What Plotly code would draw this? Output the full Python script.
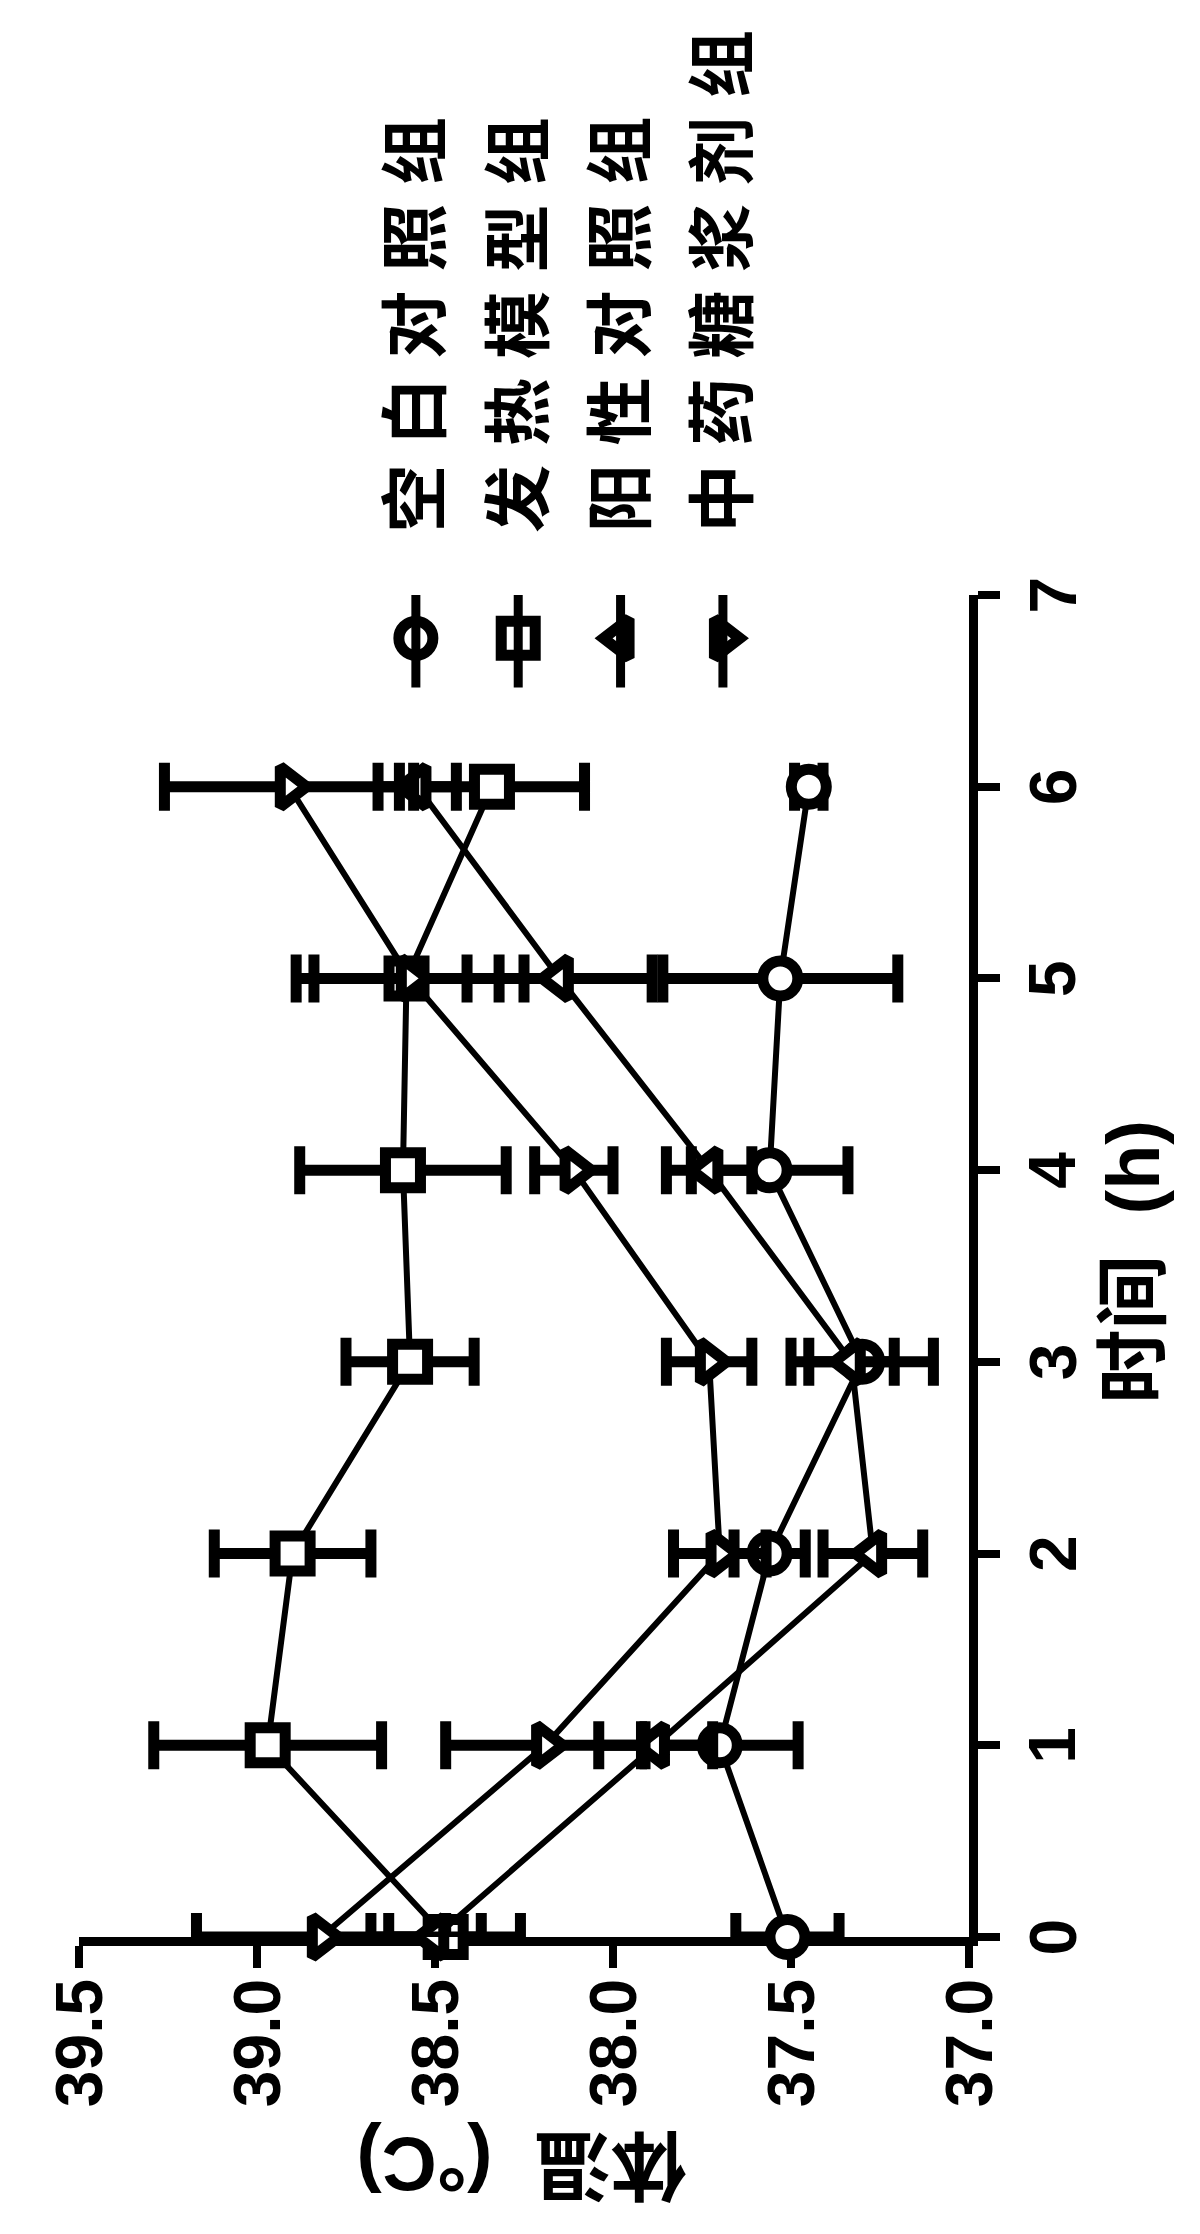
import plotly.graph_objects as go

time_h = [0, 1, 2, 3, 4, 5, 6]
time_ticks = [0, 1, 2, 3, 4, 5, 6, 7]
temp_ticks = [39.5, 39.0, 38.5, 38.0, 37.5, 37.0]
group_names = ["空白对照组", "发热模型组", "阳性对照组", "中药糖浆剂组"]

blank_mean = [37.51, 37.70, 37.56, 37.30, 37.56, 37.53, 37.45]
blank_err = [0.145, 0.22, 0.10, 0.20, 0.22, 0.33, 0.04]
fever_mean = [38.47, 38.97, 38.90, 38.57, 38.59, 38.58, 38.34]
fever_err = [0.21, 0.32, 0.22, 0.18, 0.29, 0.26, 0.26]
positive_mean = [38.50, 37.88, 37.27, 37.33, 37.73, 38.15, 38.55]
positive_err = [0.13, 0.16, 0.14, 0.12, 0.12, 0.26, 0.11]
syrup_mean = [38.82, 38.19, 37.70, 37.73, 38.11, 38.57, 38.91]
syrup_err = [0.35, 0.28, 0.13, 0.12, 0.11, 0.32, 0.35]

means = [blank_mean, fever_mean, positive_mean, syrup_mean]
errs = [blank_err, fever_err, positive_err, syrup_err]
# chart is turned 90 deg, so the triangles point sideways
symbols = ["circle", "square", "triangle-left", "triangle-right"]

ink = "black"
num_font = "Liberation Sans, Arial, sans-serif"
cjk_font = "Liberation Sans, Noto Sans CJK SC, sans-serif"
tick_font = dict(family=num_font, size=66, color=ink, weight="bold")

fig = go.Figure()

for name, m, e, sym in zip(group_names, means, errs, symbols):
    fig.add_trace(go.Scatter(
        x=m, y=time_h, name=name, mode="lines+markers",
        line=dict(color=ink, width=6),
        marker=dict(symbol=sym, size=35, color="white",
                    line=dict(color=ink, width=11)),
        error_x=dict(type="data", array=e, color=ink, thickness=11, width=24),
        cliponaxis=False, showlegend=False,
    ))

# legend keys, drawn on a small helper axis above the plot
key_idx = list(range(len(group_names)))
fig.add_trace(go.Scatter(
    x=key_idx, y=[0.57] * len(key_idx), xaxis="x2", yaxis="y2",
    mode="markers", cliponaxis=False, showlegend=False,
    marker=dict(symbol=symbols, size=34, color="white",
                line=dict(color=ink, width=11)),
))
for i in key_idx:
    fig.add_trace(go.Scatter(
        x=[i, i], y=[0.08, 1.0], xaxis="x2", yaxis="y2",
        mode="lines", line=dict(color=ink, width=9), showlegend=False,
    ))

for i, name in enumerate(group_names):
    fig.add_annotation(
        x=i, y=1.045, xref="x2", yref="paper", text=" ".join(name),
        textangle=-90, showarrow=False, xanchor="center", yanchor="bottom",
        font=dict(family=cjk_font, size=68, color=ink, weight="bold"),
    )

# rotated tick labels, set close to the ticks like the original
for v in temp_ticks:
    fig.add_annotation(
        x=v, y=-0.03, xref="x", yref="paper", text=f"{v:.1f}",
        textangle=-90, showarrow=False, xanchor="center", yanchor="top",
        font=tick_font,
    )
for t in time_ticks:
    fig.add_annotation(
        x=1.05, y=t, xref="paper", yref="y", text=str(t),
        textangle=-90, showarrow=False, xanchor="left", yanchor="middle",
        font=tick_font,
    )

# axis titles (rotated with the chart)
fig.add_annotation(
    x=0.497, y=-0.17, xref="paper", yref="paper", text="体温  (°C)",
    textangle=180, showarrow=False, xanchor="center", yanchor="middle",
    font=dict(family=cjk_font, size=76, color=ink, weight="bold"),
)
fig.add_annotation(
    x=1.185, y=0.503, xref="paper", yref="paper", text="时间  (h)",
    textangle=-90, showarrow=False, xanchor="center", yanchor="middle",
    font=dict(family=cjk_font, size=74, color=ink, weight="bold"),
)

axis_common = dict(
    showline=True, linecolor=ink, linewidth=9,
    ticks="outside", ticklen=22, tickwidth=8, tickcolor=ink,
    showgrid=False, zeroline=False, layer="below traces",
    showticklabels=False,
)

fig.update_layout(
    width=1200, height=2234, autosize=False,
    paper_bgcolor="white", plot_bgcolor="white",
    margin=dict(l=71, r=239, t=587, b=305),
    xaxis=dict(range=[39.5, 37.0], tickvals=temp_ticks, **axis_common),
    yaxis=dict(range=[0, 7], side="right", tickvals=time_ticks,
               **axis_common),
    xaxis2=dict(domain=[0.321, 0.781], range=[-0.5, 3.5], anchor="y2",
                visible=False),
    yaxis2=dict(domain=[0.925, 1.0], range=[0, 1], anchor="x2",
                visible=False),
    showlegend=False,
)

fig.write_html("out.html")
